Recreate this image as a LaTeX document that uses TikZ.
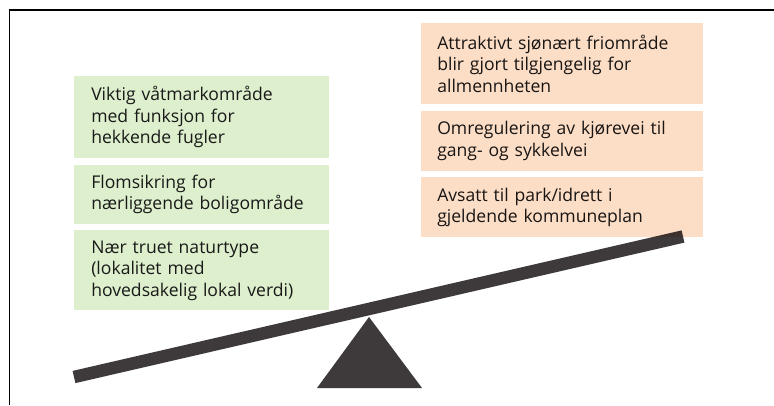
\documentclass[tikz,border=0pt]{standalone}
\usepackage{fontspec}
\setmainfont{Open Sans}
\usepackage{xcolor}
\definecolor{NV-groenn}{HTML}{DDEFCC}
\definecolor{NV-oransje}{HTML}{FCDEC7}
\definecolor{NV-vekt}{HTML}{3E3A3B}
\usepackage{tikz}
\usetikzlibrary{positioning}

\tikzset{
  natur/.style={fill=NV-groenn,text=black!90,text width=55.25mm,align=left,inner xsep=4.25mm,inner ysep=0pt},
  bruk/.style={fill=NV-oransje,text=black!90,text width=62.5mm,align=left,inner xsep=4mm,inner ysep=0pt},
}

\begin{document}
\begin{tikzpicture}
\useasboundingbox (0,0) rectangle (19.35,10.125);
\fontsize{12.5}{15.3}\selectfont

\draw[line width=1.4pt] (0.2375,0) -- (0.2375,9.875) -- (19.35,9.875);

% vekta
\draw[NV-vekt,line width=8.9pt] (1.85,0.7) -- (17.075,4.2125);
\fill[NV-vekt] (7.925,0.425) -- (9.225,2.2) -- (10.55,0.425) -- cycle;

\node[natur,anchor=north west,minimum height=2.05cm] (vaatmark) at (1.85,8.225) {Viktig våtmarkområde \\ med funksjon for \\ hekkende fugler};
\node[natur,minimum height=1.475cm,below=1.5mm of vaatmark] (flom) {Flomsikring for \\ nærliggende boligområde};
\node[natur,minimum height=2cm,below=1.5mm of flom] (naturtype) {Nær truet naturtype \\ (lokalitet med \\ hovedsakelig lokal verdi)};

\begin{scope}[blend mode=multiply]
\node[bruk,anchor=north west,minimum height=2.025cm] (friomraade) at (10.525,9.55) {Attraktivt sjønært friområde \\ blir gjort tilgjengelig for \\ allmennheten};
\node[bruk,minimum height=1.5cm,below=1.5mm of friomraade] (omregulering) {Omregulering av kjørevei til \\ gang- og sykkelvei};
\node[bruk,minimum height=1.5cm,below=1.5mm of omregulering] (park) {Avsatt til park/idrett i \\ gjeldende kommuneplan};
\end{scope}

\end{tikzpicture}
\end{document}
